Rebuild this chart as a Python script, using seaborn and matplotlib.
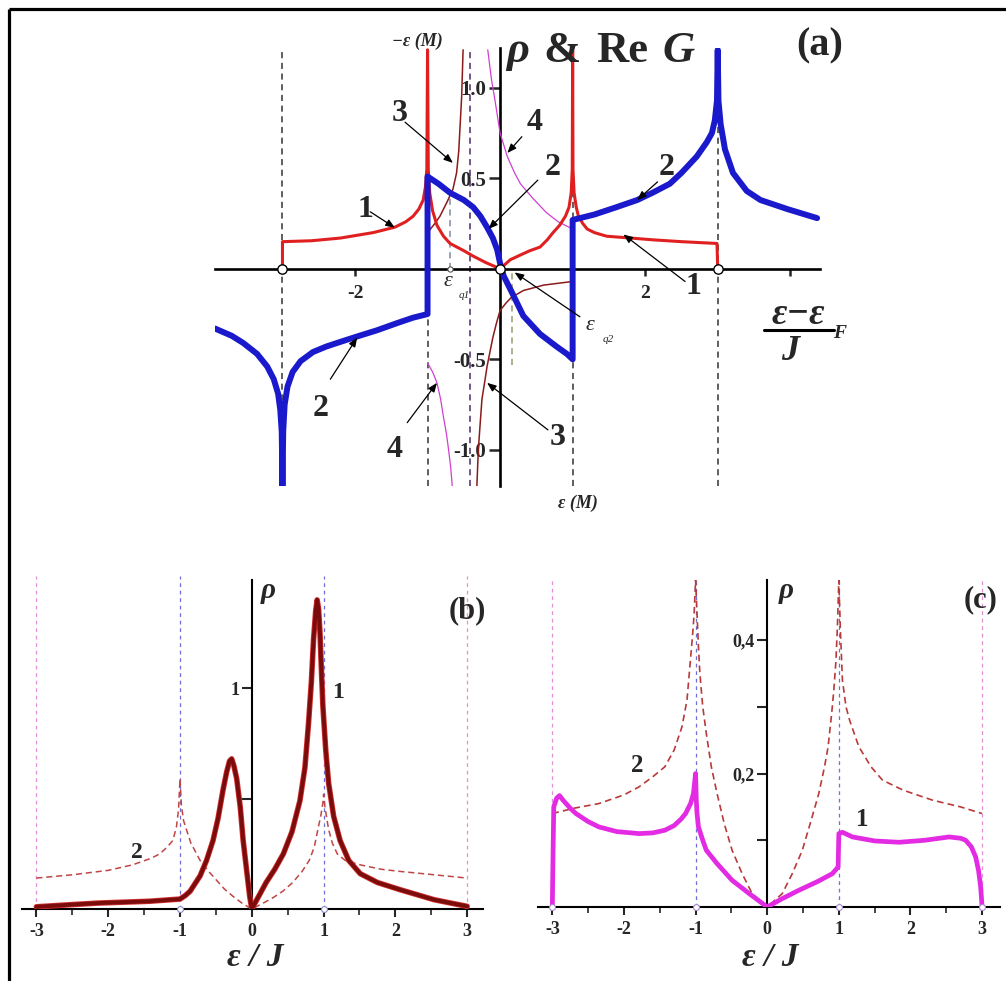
import numpy as np
import pandas as pd
import matplotlib
matplotlib.use("Agg")
import matplotlib.pyplot as plt
import seaborn as sns

# ---------------- data: panel (a) ----------------
rho_x = [-3.0, -3.0, -2.6, -2.2, -1.75, -1.45, -1.3, -1.2, -1.12, -1.06, -1.03, -1.01, -1.0,
         -0.99, -0.97, -0.93, -0.87, -0.78, -0.69, -0.5, -0.37, -0.2, 0.0,
         0.14, 0.3, 0.41, 0.55, 0.65, 0.73, 0.82, 0.9, 0.95, 0.98, 0.995, 1.0,
         1.005, 1.02, 1.05, 1.08, 1.14, 1.2, 1.3, 1.47, 1.8, 2.11, 2.5, 2.99, 3.0]
rho_y = [0.0, 0.15, 0.155, 0.17, 0.2, 0.23, 0.26, 0.29, 0.33, 0.38, 0.45, 0.55, 1.21,
         0.55, 0.42, 0.32, 0.24, 0.18, 0.14, 0.10, 0.07, 0.035, 0.0,
         0.05, 0.08, 0.10, 0.12, 0.16, 0.20, 0.24, 0.29, 0.34, 0.42, 0.55, 1.21,
         0.55, 0.42, 0.34, 0.29, 0.25, 0.22, 0.20, 0.18, 0.17, 0.16, 0.15, 0.14, 0.0]

reG_x = [-3.93, -3.7, -3.54, -3.35, -3.21, -3.12, -3.06, -3.03, -3.01, -3.0,
         -2.99, -2.97, -2.93, -2.86, -2.75, -2.58, -2.4, -2.25, -1.98, -1.7,
         -1.42, -1.2, -1.0, -1.0, -0.85, -0.69, -0.5, -0.37, -0.27, -0.18,
         -0.1, -0.04, 0.0, 0.05, 0.15, 0.32, 0.55, 0.78, 0.92, 1.0, 1.0, 1.3,
         1.6, 1.89, 2.1, 2.34, 2.5, 2.71, 2.85, 2.92, 2.96, 2.99, 3.0, 3.01,
         3.04, 3.1, 3.21, 3.4, 3.59, 3.96, 4.37]
reG_y = [-0.33, -0.37, -0.41, -0.47, -0.54, -0.61, -0.69, -0.78, -0.9, -1.2,
         -0.9, -0.75, -0.65, -0.57, -0.51, -0.46, -0.43, -0.41, -0.375, -0.34,
         -0.30, -0.27, -0.25, 0.51, 0.47, 0.42, 0.38, 0.34, 0.29, 0.23,
         0.17, 0.105, 0.03, -0.04, -0.12, -0.26, -0.36, -0.43, -0.47, -0.50, 0.27, 0.30,
         0.34, 0.38, 0.42, 0.47, 0.53, 0.62, 0.70, 0.75, 0.82, 0.93, 1.21, 0.93,
         0.80, 0.66, 0.53, 0.43, 0.38, 0.33, 0.28]

em_up_x = [-1.0, -0.9, -0.83, -0.73, -0.65, -0.6, -0.57, -0.55, -0.53, -0.51]
em_up_y = [0.2, 0.25, 0.29, 0.37, 0.44, 0.53, 0.65, 0.8, 0.95, 1.21]
em_lo_x = [-0.32, -0.3, -0.27, -0.25, -0.21, -0.18, -0.1, -0.05, 0.0, 0.08,
           0.15, 0.32, 0.6, 1.0]
em_lo_y = [-1.2, -1.0, -0.83, -0.72, -0.62, -0.54, -0.38, -0.3, -0.23, -0.19,
           -0.16, -0.12, -0.09, -0.07]

c4_up_x = [-0.17, -0.12, -0.07, 0.0, 0.1, 0.2, 0.28, 0.45, 0.64, 0.8, 1.0]
c4_up_y = [1.21, 1.05, 0.93, 0.75, 0.62, 0.53, 0.47, 0.39, 0.31, 0.26, 0.22]
c4_lo_x = [-1.0, -0.93, -0.87, -0.82, -0.78, -0.74, -0.71, -0.68, -0.66]
c4_lo_y = [-0.52, -0.57, -0.63, -0.72, -0.82, -0.91, -1.0, -1.1, -1.2]

band_edges_a = [-3.0, -1.0, 1.0, 3.0]
pole_a = -0.41
eps_q1 = -0.69
eps_q2 = 0.17
zeros_a = [-3.0, 0.0, 3.0]
a_yticks = [-1.0, -0.5, 0.5, 1.0]
a_yticklabels = ["-1.0", "-0.5", "0.5", "1.0"]
a_xticks = [-2, 2, 4]
a_xticklabels = ["-2", "2", ""]

# ---------------- data: panel (b) ----------------
b1_x = [-3.0, -2.5, -2.13, -1.43, -1.0, -0.93, -0.86, -0.8, -0.72, -0.63,
        -0.54, -0.47, -0.40, -0.35, -0.31, -0.28, -0.25, -0.21, -0.16, -0.12,
        -0.07, -0.03, 0.0, 0.1, 0.2, 0.32, 0.44, 0.56, 0.67, 0.74, 0.79,
        0.83, 0.86, 0.89, 0.91, 0.93, 0.95, 0.97, 0.99, 1.03, 1.07, 1.14,
        1.23, 1.35, 1.51, 1.75, 2.07, 2.3, 2.54, 2.8, 3.0]
b1_y = [0.01, 0.02, 0.027, 0.035, 0.045, 0.06, 0.08, 0.11, 0.15, 0.22,
        0.31, 0.41, 0.54, 0.62, 0.67, 0.68, 0.65, 0.59, 0.46, 0.31,
        0.17, 0.06, 0.0, 0.06, 0.12, 0.18, 0.25, 0.35, 0.49, 0.64, 0.84,
        1.03, 1.22, 1.35, 1.40, 1.36, 1.25, 1.08, 0.92, 0.72, 0.57, 0.42,
        0.31, 0.22, 0.16, 0.12, 0.087, 0.065, 0.042, 0.025, 0.012]
b2_x = [-3.0, -2.5, -2.0, -1.66, -1.4, -1.28, -1.18, -1.1, -1.05, -1.02, -1.0,
        -0.98, -0.95, -0.91, -0.85, -0.72, -0.6, -0.49, -0.38, -0.26, -0.13, 0.0,
        0.15, 0.29, 0.43, 0.57, 0.7, 0.8, 0.87, 0.92, 0.96, 0.99, 1.0,
        1.02, 1.05, 1.07, 1.12, 1.19, 1.3, 1.51, 1.8, 2.07, 2.54, 3.0]
b2_y = [0.14, 0.155, 0.175, 0.2, 0.23, 0.25, 0.28, 0.31, 0.37, 0.45, 0.59,
        0.47, 0.40, 0.36, 0.30, 0.22, 0.17, 0.13, 0.09, 0.057, 0.025, 0.0,
        0.025, 0.05, 0.08, 0.12, 0.17, 0.22, 0.28, 0.36, 0.42, 0.48, 0.52,
        0.46, 0.40, 0.36, 0.30, 0.25, 0.22, 0.20, 0.18, 0.17, 0.155, 0.14]
b_yticks = [0.5, 1.0]
b_yticklabels = ["", "1"]

# ---------------- data: panel (c) ----------------
c1_x = [-3.0, -2.99, -2.98, -2.94, -2.9, -2.85, -2.75, -2.67, -2.5, -2.35,
        -2.1, -1.79, -1.6, -1.43, -1.3, -1.2, -1.14, -1.07, -1.03, -1.0,
        -0.99, -0.98, -0.96, -0.9, -0.85, -0.7, -0.49, -0.25, 0.0, 0.2,
        0.44, 0.7, 0.91, 0.99, 1.0, 1.05, 1.19, 1.5, 1.84, 2.2, 2.54, 2.7,
        2.77, 2.85, 2.91, 2.95, 2.98, 3.0]
c1_y = [0.0, 0.08, 0.15, 0.163, 0.167, 0.16, 0.148, 0.14, 0.128, 0.12,
        0.113, 0.11, 0.111, 0.115, 0.122, 0.132, 0.14, 0.155, 0.17, 0.2,
        0.16, 0.14, 0.12, 0.10, 0.085, 0.065, 0.04, 0.02, 0.0, 0.012,
        0.025, 0.038, 0.05, 0.06, 0.11, 0.112, 0.105, 0.099, 0.097, 0.10, 0.105, 0.103,
        0.10, 0.09, 0.075, 0.055, 0.03, 0.0]
c2_x = [-3.0, -2.7, -2.35, -2.0, -1.79, -1.6, -1.43, -1.3, -1.19, -1.12,
        -1.08, -1.04, -1.02, -1.0, -0.98, -0.96, -0.94, -0.9, -0.85, -0.78,
        -0.7, -0.6, -0.49, -0.35, -0.21, 0.0, 0.21, 0.35, 0.49, 0.6, 0.72,
        0.8, 0.85, 0.9, 0.93, 0.96, 0.98, 1.0, 1.02, 1.05, 1.1, 1.15, 1.28,
        1.45, 1.61, 1.9, 2.31, 2.7, 3.0]
c2_y = [0.14, 0.148, 0.155, 0.168, 0.18, 0.195, 0.21, 0.235, 0.27, 0.31,
        0.36, 0.41, 0.44, 0.49, 0.44, 0.39, 0.35, 0.30, 0.26, 0.21,
        0.17, 0.125, 0.085, 0.05, 0.02, 0.0, 0.02, 0.05, 0.085, 0.125, 0.17,
        0.21, 0.24, 0.29, 0.325, 0.37, 0.42, 0.49, 0.42, 0.34, 0.30, 0.28, 0.24,
        0.21, 0.19, 0.175, 0.16, 0.15, 0.14]
c_yticks = [0.1, 0.2, 0.3, 0.4]
c_yticklabels = ["", "0,2", "", "0,4"]

bc_xticks = [-3, -2, -1, 0, 1, 2, 3]
bc_minor = [-2.5, -1.5, -0.5, 0.5, 1.5, 2.5]
outer_edges = [-3.0, 3.0]
inner_edges = [-1.0, 1.0]

# ---------------- style ----------------
sns.set_theme(style="white")
plt.rcParams["font.family"] = ["Liberation Serif", "DejaVu Serif"]
plt.rcParams["font.weight"] = "bold"
plt.rcParams["axes.unicode_minus"] = False

W, H = 1006, 981
fig = plt.figure(figsize=(W / 100, H / 100), dpi=100)


def px_axes(x0, x1, y0, y1):
    return fig.add_axes([x0 / W, 1 - y1 / H, (x1 - x0) / W, (y1 - y0) / H])


def curve(ax, x, y, color, lw, ls="-", z=3):
    sns.lineplot(x=x, y=y, ax=ax, color=color, linewidth=lw, linestyle=ls,
                 sort=False, estimator=None, errorbar=None, legend=False,
                 zorder=z)


def zero_spines(ax, lw):
    ax.spines["left"].set_position(("data", 0))
    ax.spines["bottom"].set_position(("data", 0))
    for s in ["top", "right"]:
        ax.spines[s].set_visible(False)
    for s in ["left", "bottom"]:
        ax.spines[s].set_color("black")
        ax.spines[s].set_linewidth(lw)
        ax.spines[s].set_zorder(2)
    ax.set_facecolor("none")
    ax.grid(False)


# ---------------- panel (a) ----------------
axa = px_axes(215, 820, 48, 486)
axa.set_xlim(-3.93, 4.41)
axa.set_ylim(-1.2, 1.22)
zero_spines(axa, 1.9)

axa.vlines(band_edges_a, -1.2, 1.21, colors="#333333", linestyles=(0, (4, 3)),
           linewidth=1.1, zorder=1)
axa.vlines([pole_a], -1.2, 1.21, colors="#4b2a6a", linestyles=(0, (4, 3)),
           linewidth=1.1, zorder=1)
axa.vlines([eps_q1], 0, 0.42, colors="#7d8aa0", linestyles=(0, (4, 3)),
           linewidth=1.1, zorder=1)
axa.vlines([eps_q2], -0.53, 0, colors="#9a9a70", linestyles=(0, (4, 3)),
           linewidth=1.1, zorder=1)

curve(axa, c4_up_x, c4_up_y, "#d040d0", 0.9, z=3)
curve(axa, c4_lo_x, c4_lo_y, "#d040d0", 0.9, z=3)
curve(axa, em_up_x, em_up_y, "#8b1a1a", 1.1, z=3)
curve(axa, em_lo_x, em_lo_y, "#8b1a1a", 1.1, z=3)
curve(axa, rho_x, rho_y, "#e02020", 2.2, z=4)
curve(axa, reG_x, reG_y, "#1a1acc", 4.3, z=5)

sns.scatterplot(x=zeros_a, y=[0] * len(zeros_a), ax=axa, s=45, color="white",
                edgecolor="black", linewidth=1.0, zorder=7, legend=False,
                clip_on=False)
sns.scatterplot(x=[eps_q1], y=[0], ax=axa, s=14, color="white",
                edgecolor="#555555", linewidth=0.8, zorder=7, legend=False)

axa.set_xticks(a_xticks)
axa.set_xticklabels(a_xticklabels)
axa.set_yticks(a_yticks)
axa.set_yticklabels(a_yticklabels)
axa.tick_params(axis="x", direction="out", length=5, width=1.8, pad=7,
                labelsize=14, bottom=True)
axa.tick_params(axis="y", direction="out", length=8, width=1.8, pad=2,
                labelsize=15, left=True)
for t in axa.get_xticklabels() + axa.get_yticklabels():
    t.set_fontweight("bold")
axa.set_xlabel("")
axa.set_ylabel("")

arrow_kw = dict(arrowstyle="-|>,head_length=0.45,head_width=0.18", lw=0.9,
                color="black", shrinkA=0, shrinkB=0)
annots = [
    ("1", (-1.86, 0.33), (-1.79, 0.315), (-1.45, 0.227)),
    ("3", (-1.38, 0.86), (-1.31, 0.81), (-0.65, 0.585)),
    ("4", (0.48, 0.81), (0.30, 0.73), (0.10, 0.64)),
    ("2", (0.72, 0.56), (0.52, 0.49), (-0.16, 0.22)),
    ("2", (2.30, 0.56), (2.17, 0.48), (1.89, 0.38)),
    ("1", (2.66, -0.10), (2.55, -0.07), (1.70, 0.19)),
    ("2", (-2.48, -0.77), (-2.34, -0.61), (-1.97, -0.38)),
    ("4", (-1.45, -1.00), (-1.28, -0.85), (-0.87, -0.63)),
    ("3", (0.79, -0.93), (0.66, -0.89), (-0.18, -0.63)),
]
for lab, tpos, start, tip in annots:
    axa.text(tpos[0], tpos[1], lab, fontsize=23, fontweight="bold",
             ha="center", va="center", zorder=8)
    axa.annotate("", xy=tip, xytext=start, arrowprops=arrow_kw, zorder=8)
axa.annotate("", xy=(0.20, -0.02), xytext=(1.10, -0.265), arrowprops=arrow_kw,
             zorder=8)

# ---------------- panel (b) ----------------
axb = px_axes(22, 483, 580, 909)
axb.set_xlim(-3.2, 3.22)
axb.set_ylim(0, 1.49)
zero_spines(axb, 1.5)
axb.vlines(outer_edges, 0, 1.51, colors="#e58fd8", linestyles=(0, (3, 3)),
           linewidth=0.9, zorder=1, clip_on=False)
axb.vlines(inner_edges, 0, 1.51, colors="#6f6fd6", linestyles=(0, (3, 3)),
           linewidth=0.9, zorder=1, clip_on=False)
curve(axb, b2_x, b2_y, "#c04545", 1.1, ls=(0, (4, 2.5)), z=3)
curve(axb, b1_x, b1_y, "#d23030", 4.0, z=4)
curve(axb, b1_x, b1_y, "#7a0c0c", 2.8, z=5)
sns.scatterplot(x=inner_edges, y=[0, 0], ax=axb, s=18, color="white",
                edgecolor="#8888cc", linewidth=0.8, zorder=7, legend=False,
                clip_on=False)

# ---------------- panel (c) ----------------
axc = px_axes(538, 1000, 580, 907)
axc.set_xlim(-3.2, 3.25)
axc.set_ylim(0, 0.49)
zero_spines(axc, 1.5)
axc.vlines(outer_edges, 0, 0.49, colors="#e58fd8", linestyles=(0, (3, 3)),
           linewidth=0.9, zorder=1)
axc.vlines(inner_edges, 0, 0.49, colors="#6f6fd6", linestyles=(0, (3, 3)),
           linewidth=0.9, zorder=1)
curve(axc, c2_x, c2_y, "#b83a3a", 1.2, ls=(0, (4, 2.5)), z=3)
curve(axc, c1_x, c1_y, "#e22be2", 3.4, z=5)
sns.scatterplot(x=inner_edges + outer_edges, y=[0] * 4, ax=axc, s=18,
                color="white", edgecolor="#aa88cc", linewidth=0.8, zorder=7,
                legend=False, clip_on=False)

for ax, yt, ytl in [(axb, b_yticks, b_yticklabels), (axc, c_yticks, c_yticklabels)]:
    ax.set_xticks(bc_xticks)
    ax.set_xticklabels([str(v) for v in bc_xticks])
    ax.set_xticks(bc_minor, minor=True)
    ax.set_yticks(yt)
    ax.set_yticklabels(ytl)
    ax.tick_params(axis="x", which="major", direction="out", length=6,
                   width=1.5, pad=4, labelsize=13, bottom=True)
    ax.tick_params(axis="x", which="minor", direction="out", length=4,
                   width=1.2, bottom=True)
    ax.tick_params(axis="y", direction="out", length=7, width=1.5, pad=2,
                   labelsize=13, left=True)
    for t in ax.get_xticklabels() + ax.get_yticklabels():
        t.set_fontweight("bold")
    ax.set_xlabel("")
    ax.set_ylabel("")

# ---------------- overlay text (pixel coordinates) ----------------
ov = fig.add_axes([0, 0, 1, 1], zorder=20)
ov.set_xlim(0, W)
ov.set_ylim(H, 0)
ov.axis("off")
ov.patch.set_alpha(0)

# panel (a) titles
ov.text(506, 62, "ρ", fontsize=32, fontweight="bold", style="italic",
        ha="left", va="baseline")
ov.text(543, 62, "&", fontsize=32, fontweight="bold", ha="left", va="baseline")
ov.text(596, 62, "Re", fontsize=32, fontweight="bold", ha="left", va="baseline")
ov.text(662, 62, "G", fontsize=32, fontweight="bold", style="italic",
        ha="left", va="baseline")
ov.text(820, 46, "(a)", fontsize=29, fontweight="bold", ha="center", va="center")
ov.text(417, 41, "−ε (M)", fontsize=13, fontweight="bold", style="italic",
        ha="center", va="center")
ov.text(578, 503, "ε (M)", fontsize=13, fontweight="bold", style="italic",
        ha="center", va="center")
ov.text(448, 281, "ε", fontsize=16, style="italic", fontweight="normal",
        ha="center", va="center")
ov.text(464, 295, "q1", fontsize=8, style="italic", fontweight="normal",
        ha="center", va="center")
ov.text(590, 326, "ε", fontsize=16, style="italic", fontweight="normal",
        ha="center", va="center")
ov.text(608, 339, "q2", fontsize=8, style="italic", fontweight="normal",
        ha="center", va="center")
# x label of (a)
ov.text(798, 314, "ε−ε", fontsize=27, fontweight="bold", style="italic",
        ha="center", va="center")
ov.text(840, 334, "F", fontsize=14, fontweight="bold", style="italic",
        ha="center", va="center")
ov.plot([764, 834], [330, 330], color="black", lw=2.2)
ov.text(790, 352, "J", fontsize=26, fontweight="bold", style="italic",
        ha="center", va="center")

# panel (b)
ov.text(268, 590, "ρ", fontsize=21, fontweight="bold", style="italic",
        ha="center", va="center")
ov.text(467, 611, "(b)", fontsize=22, fontweight="bold", ha="center", va="center")
ov.text(338, 692, "1", fontsize=17, fontweight="bold", ha="center", va="center")
ov.text(137, 852, "2", fontsize=17, fontweight="bold", ha="center", va="center")
ov.text(255, 958, "ε / J", fontsize=24, fontweight="bold", style="italic",
        ha="center", va="center")

# panel (c)
ov.text(786, 590, "ρ", fontsize=21, fontweight="bold", style="italic",
        ha="center", va="center")
ov.text(981, 600, "(c)", fontsize=22, fontweight="bold", ha="center", va="center")
ov.text(637, 766, "2", fontsize=18, fontweight="bold", ha="center", va="center")
ov.text(862, 820, "1", fontsize=18, fontweight="bold", ha="center", va="center")
ov.text(770, 958, "ε / J", fontsize=24, fontweight="bold", style="italic",
        ha="center", va="center")

# outer frame (top and left)
ov.plot([9, W], [9, 9], color="black", lw=2.3, solid_capstyle="butt")
ov.plot([9, 9], [9, H], color="black", lw=2.3, solid_capstyle="butt")

fig.savefig("out.png", dpi=100, facecolor="white")
